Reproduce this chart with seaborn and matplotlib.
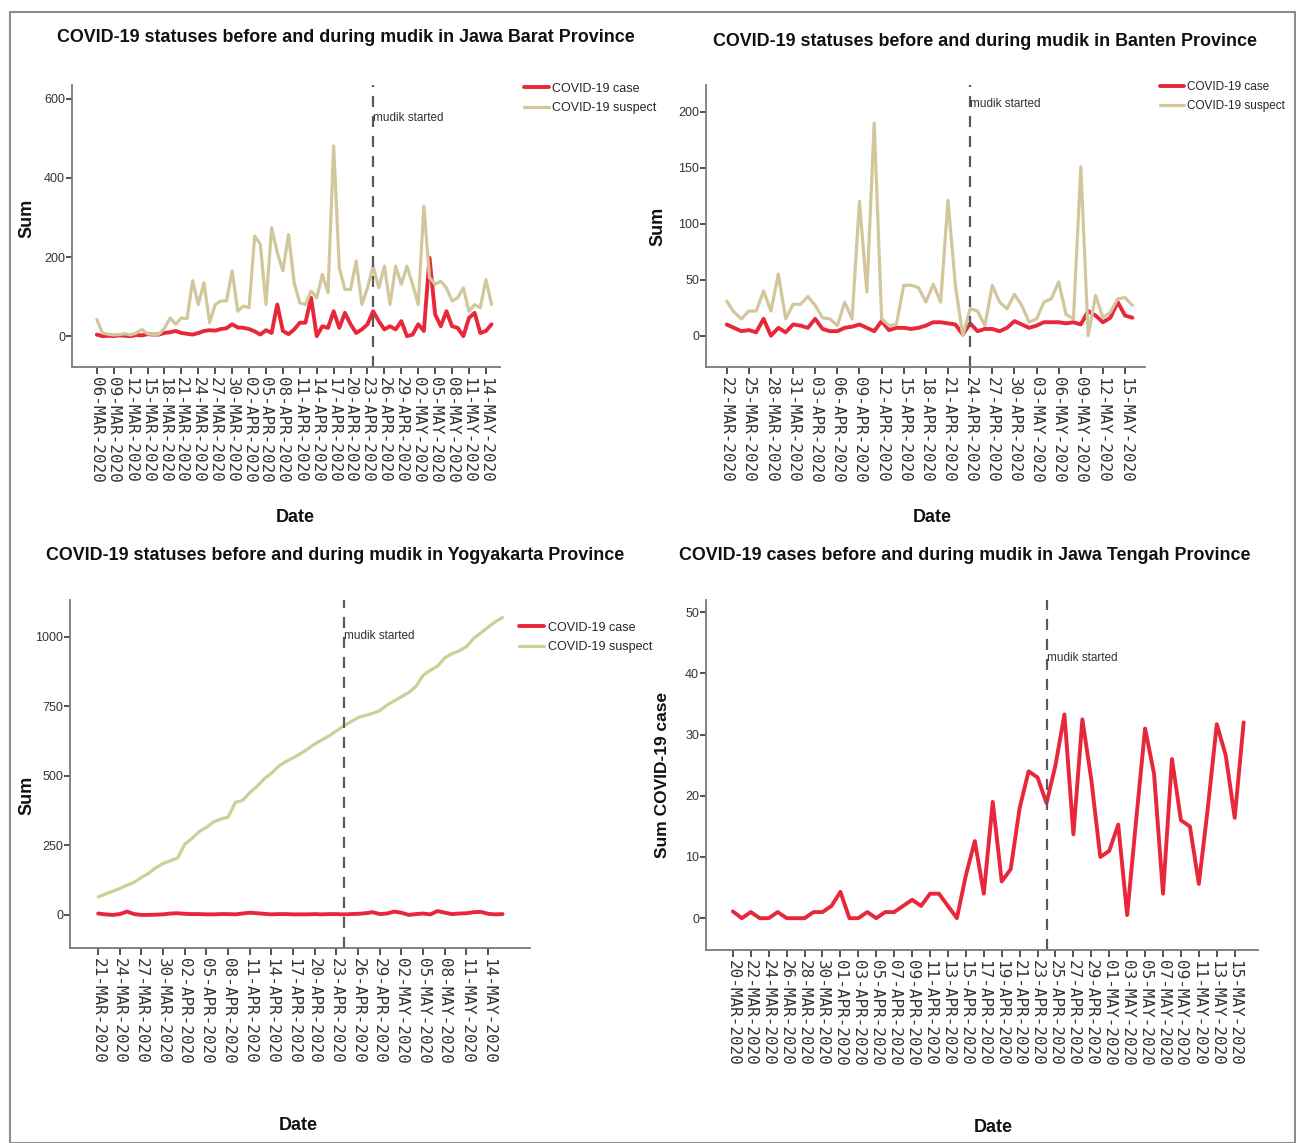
import matplotlib
matplotlib.use("Agg")
import matplotlib.pyplot as plt
import pandas as pd
import seaborn as sns
from matplotlib.patches import Rectangle

# ---- data ----
jabar_start = "2020-03-06"
jabar_case = [4, 0, 1, 0, 2, 1, 0, 3, 2, 5, 4, 4, 8, 10, 13, 8, 6, 4, 8, 13,
              15, 14, 18, 20, 30, 22, 21, 18, 12, 4, 15, 8, 80, 13, 5, 17, 34, 34, 97, 0,
              25, 21, 63, 21, 59, 30, 8, 17, 30, 63, 38, 17, 25, 17, 38, 0, 4, 30, 13, 198,
              55, 25, 63, 25, 21, 0, 46, 59, 8, 13, 30]
jabar_suspect = [42, 8, 5, 3, 4, 6, 3, 8, 17, 6, 4, 5, 20, 46, 30, 46, 44, 140, 80, 135,
                 34, 80, 89, 89, 165, 63, 76, 72, 253, 232, 80, 274, 211, 165, 257, 135, 84, 80, 114, 97,
                 156, 110, 481, 173, 118, 118, 190, 80, 122, 177, 122, 177, 80, 177, 131, 177, 131, 80, 329, 148,
                 131, 139, 122, 89, 97, 122, 63, 80, 72, 143, 80]

banten_start = "2020-03-22"
banten_case = [10, 7, 4, 5, 3, 15, 0, 7, 3, 10, 9, 7, 15, 6, 4, 4, 7, 8, 10, 7,
               4, 13, 5, 7, 7, 6, 7, 9, 12, 12, 11, 10, 1, 11, 4, 6, 6, 4, 7, 13,
               10, 7, 9, 12, 12, 12, 11, 12, 10, 22, 18, 12, 16, 30, 18, 16]
banten_suspect = [31, 21, 15, 22, 22, 40, 22, 55, 15, 28, 28, 35, 27, 16, 15, 9, 30, 15, 120, 39,
                  190, 15, 9, 10, 45, 45, 43, 30, 46, 30, 121, 45, 0, 24, 22, 9, 45, 30, 24, 37,
                  27, 12, 15, 30, 33, 48, 19, 15, 151, 0, 36, 16, 21, 33, 34, 27]

jogja_start = "2020-03-21"
jogja_case = [5, 2, 0, 3, 12, 3, 0, 0, 1, 2, 5, 6, 4, 3, 3, 2, 2, 3, 3, 2,
              5, 8, 6, 4, 2, 3, 3, 2, 2, 2, 3, 2, 3, 3, 2, 3, 4, 6, 10, 3,
              5, 12, 8, 0, 3, 5, 2, 14, 8, 3, 5, 6, 10, 11, 4, 2, 3]
jogja_suspect = [65, 75, 85, 95, 107, 118, 135, 150, 170, 185, 195, 205, 255, 275, 300, 315, 335, 345, 352, 405,
                 412, 440, 462, 490, 510, 535, 552, 565, 580, 597, 615, 630, 645, 662, 680, 695, 710, 718, 725, 735,
                 755, 770, 785, 800, 822, 862, 880, 895, 925, 940, 950, 965, 995, 1015, 1035, 1055, 1070]

jateng_start = "2020-03-20"
jateng_case = [1.1, 0, 1, 0, 0, 1, 0, 0, 0, 1, 1, 2, 4.3, 0, 0, 1, 0, 1, 1, 2,
               3, 2, 4, 4, 2, 0, 7, 12.6, 4, 19, 6, 8, 18, 24, 23, 18.8, 25, 33.3, 13.7, 32.5,
               22.6, 10, 11, 15.3, 0.5, 16, 31, 23.6, 4, 26, 16, 15, 5.6, 18, 31.7, 26.6, 16.4, 32]

mudik_date = "2020-04-24"
CASE, SUSPECT = "COVID-19 case", "COVID-19 suspect"

W, H = 1296, 1143
SANS = ["Liberation Sans", "DejaVu Sans"]

sns.set_theme(style="ticks")
plt.rcParams["font.family"] = SANS

fig = plt.figure(figsize=(W / 100, H / 100), dpi=100)
fig.patches.append(Rectangle((10 / W, 0), 1 - 11 / W, 1 - 12 / H, transform=fig.transFigure,
                             fill=False, edgecolor="#8c8c8c", lw=1.5))


def box(left, top, right, bottom):
    return [left / W, 1 - bottom / H, (right - left) / W, (bottom - top) / H]


def draw_panel(rect, start, series, colors, first_tick, last_tick, step, xpad, ylim, yticks,
               mudik_y):
    ax = fig.add_axes(box(*rect))
    n = len(next(iter(series.values())))
    dates = pd.date_range(start, periods=n, freq="D")
    for name, vals in series.items():
        df = pd.DataFrame({"Date": dates, "Sum": vals})
        sns.lineplot(data=df, x="Date", y="Sum", ax=ax, color=colors[name],
                     lw=2.8 if name == CASE else 2.3, label=name, legend=False)
    mudik = pd.Timestamp(mudik_date)
    ax.axvline(mudik, color="#5a5a5a", lw=1.6, ls=(0, (5, 4)))
    ax.text(mudik, mudik_y, "mudik started", transform=ax.get_xaxis_transform(),
            ha="left", va="center", fontsize=8.5, color="#333333")
    ticks = pd.date_range(first_tick, last_tick, freq=f"{step}D")
    ax.set_xticks(ticks)
    ax.set_xticklabels([t.strftime("%d-%b-%Y").upper() for t in ticks], rotation=-90,
                       fontsize=11.5, family="DejaVu Sans Mono", color="#3a3a3a")
    ax.set_xlim(dates[0] - pd.Timedelta(days=xpad[0]), dates[0] + pd.Timedelta(days=xpad[1]))
    ax.set_ylim(*ylim)
    ax.set_yticks(yticks)
    ax.tick_params(axis="y", labelsize=9, length=4, width=1.2, pad=1, colors="#333333")
    ax.tick_params(axis="x", length=5, width=1.2, pad=2, colors="#333333")
    ax.set_xlabel("")
    ax.set_ylabel("")
    sns.despine(ax=ax)
    for s in ("left", "bottom"):
        ax.spines[s].set_color("#7a7a7a")
        ax.spines[s].set_linewidth(1.3)
    return ax


col_a = {CASE: "#E8283A", SUSPECT: "#D2C79C"}
col_b = {CASE: "#E8283A", SUSPECT: "#CBD096"}

ax1 = draw_panel((72, 85, 500, 367), jabar_start, {CASE: jabar_case, SUSPECT: jabar_suspect}, col_a,
                 "2020-03-06", "2020-05-14", 3, (4.4, 71.5), (-78, 635), [0, 200, 400, 600], 0.883)
ax2 = draw_panel((706, 85, 1145, 367), banten_start, {CASE: banten_case, SUSPECT: banten_suspect}, col_a,
                 "2020-03-22", "2020-05-15", 3, (2.8, 56.7), (-28, 224), [0, 50, 100, 150, 200], 0.933)
ax3 = draw_panel((70, 600, 530, 948), jogja_start, {CASE: jogja_case, SUSPECT: jogja_suspect}, col_b,
                 "2020-03-21", "2020-05-14", 3, (3.9, 59.8), (-119, 1133), [0, 250, 500, 750, 1000], 0.897)
ax4 = draw_panel((706, 600, 1258, 950), jateng_start, {CASE: jateng_case}, col_a,
                 "2020-03-20", "2020-05-15", 2, (3.0, 58.6), (-5.2, 52), [0, 10, 20, 30, 40, 50], 0.834)

# titles
title_kw = dict(ha="center", va="center", fontsize=12.9, fontweight="bold", color="#111111")
fig.text(346 / W, 1 - 38 / H, "COVID-19 statuses before and during mudik in Jawa Barat Province", **title_kw)
fig.text(985 / W, 1 - 42 / H, "COVID-19 statuses before and during mudik in Banten Province", **title_kw)
fig.text(335 / W, 1 - 556 / H, "COVID-19 statuses before and during mudik in Yogyakarta Province", **title_kw)
fig.text(965 / W, 1 - 555 / H, "COVID-19 cases before and during mudik in Jawa Tengah Province", **title_kw)

# axis labels
for x, y in [(27, 218), (658, 226), (27, 795)]:
    fig.text(x / W, 1 - y / H, "Sum", rotation=90, ha="center", va="center",
             fontsize=13, fontweight="bold", color="#111111")
fig.text(662 / W, 1 - 775 / H, "Sum COVID-19 case", rotation=90, ha="center", va="center",
         fontsize=12.5, fontweight="bold", color="#111111")
for x, y in [(295, 518), (932, 518), (298, 1125), (993, 1127)]:
    fig.text(x / W, 1 - y / H, "Date", ha="center", va="center", fontsize=13,
             fontweight="bold", color="#111111")

# legends
for ax, x, y, fs in [(ax1, 515, 74, 9), (ax2, 1152, 73, 8.5), (ax3, 510, 613, 9)]:
    h, l = ax.get_legend_handles_labels()
    fig.legend(h, l, loc="upper left", bbox_to_anchor=(x / W, 1 - y / H), frameon=False,
               prop={"size": fs}, handlelength=2.0, handletextpad=0.3,
               labelspacing=0.6, borderpad=0.2)

fig.savefig("out.png", dpi=100)
